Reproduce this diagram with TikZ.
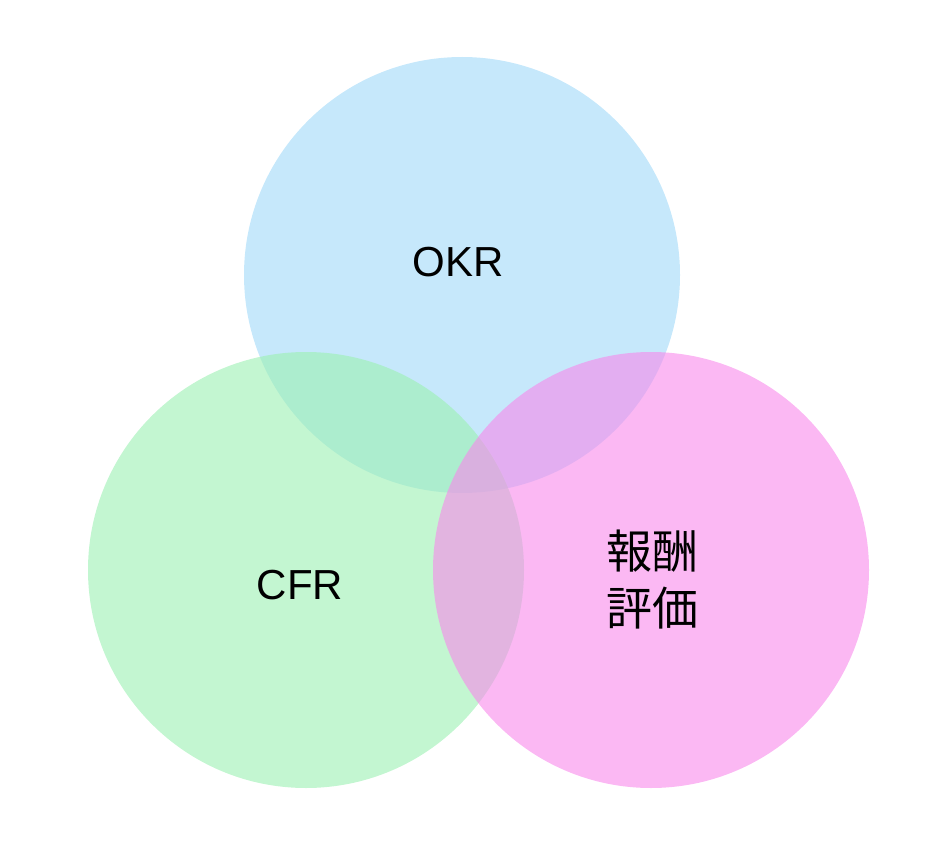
\documentclass[tikz,border=0pt]{standalone}
\usepackage{fontspec}
\setmainfont{Liberation Sans}
\newfontfamily\jpfont{Noto Sans CJK JP}
\definecolor{okrblue}{RGB}{160,217,248}
\definecolor{cfrgreen}{RGB}{155,240,178}
\definecolor{rewardpink}{RGB}{248,137,235}

\begin{document}
\begin{tikzpicture}[x=1pt,y=-1pt,
        set/.style={circle,minimum size=436pt,inner sep=0pt,draw=none,fill opacity=0.6},
        every node/.style={font=\fontsize{42}{50}\selectfont}]

    \useasboundingbox (0,0) rectangle (952,842);

    \node[set,fill=okrblue]    (okr)    at (462,275) {};
    \node[set,fill=cfrgreen]   (cfr)    at (306,570) {};
    \node[set,fill=rewardpink] (reward) at (651,570) {};

    \node (okrlabel)    at (458,262) {OKR};
    \node (cfrlabel)    at (300,585) {CFR};
    \node[align=center,font=\jpfont\fontsize{46}{57}\selectfont]
          (rewardlabel) at (652,580) {報酬\\評価};
\end{tikzpicture}
\end{document}
